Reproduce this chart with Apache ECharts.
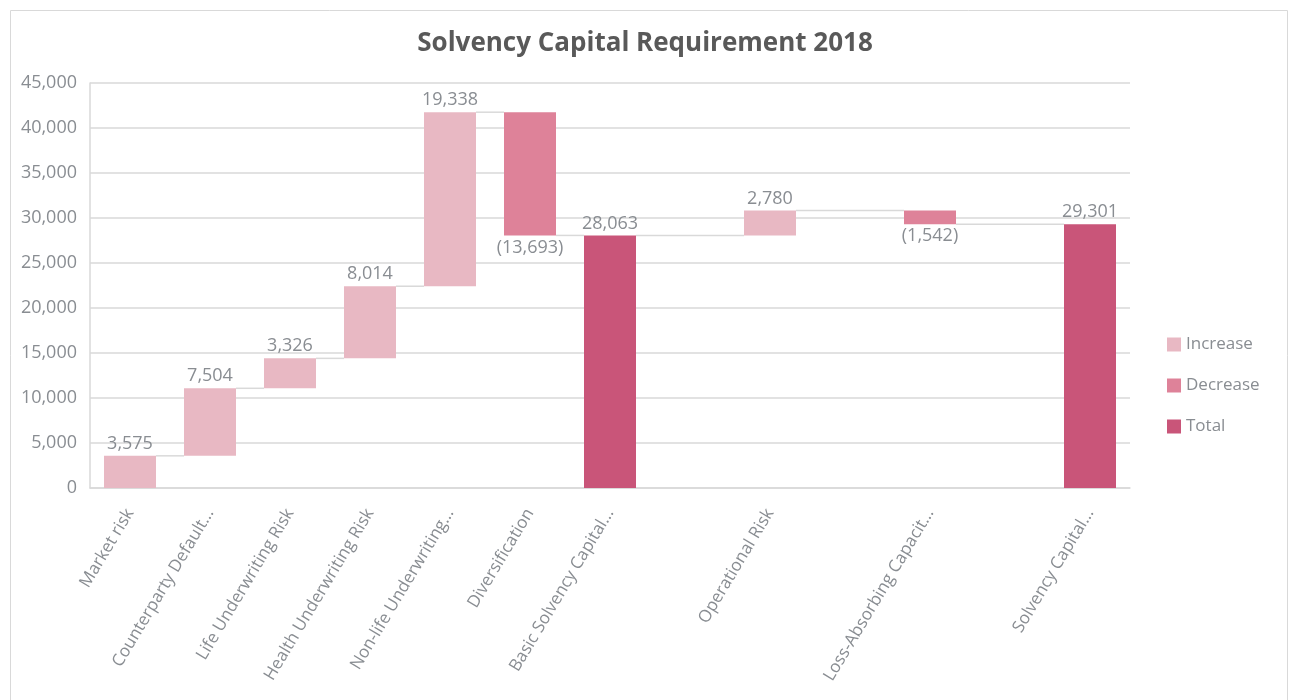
<!DOCTYPE html>
<html>
<head>
<meta charset="utf-8">
<title>Solvency Capital Requirement 2018</title>
<script src="https://cdn.jsdelivr.net/npm/echarts@6/dist/echarts.min.js"></script>
<style>
  html, body { margin: 0; padding: 0; background: #fff; }
  #chart { width: 1290px; height: 700px; }
</style>
</head>
<body>
<div id="chart"></div>
<script>
// categories as displayed (Excel truncates long names); '' = spacer column
const categories = [
  'Market risk', 'Counterparty Default...', 'Life Underwriting Risk',
  'Health Underwriting Risk', 'Non-life Underwriting...', 'Diversification',
  'Basic Solvency Capital...', '', 'Operational Risk', '',
  'Loss-Absorbing Capacit...', '', 'Solvency Capital...'
]
// kind of each step: inc / dec / total / '' (spacer)
const kinds = ['inc', 'inc', 'inc', 'inc', 'inc', 'dec', 'total', '', 'inc', '', 'dec', '', 'total']
const amounts = [3575, 7504, 3326, 8014, 19338, 13693, 28063, null, 2780, null, 1542, null, 29301]
const yTicks = [0, 45000, 5000]

const colors = { inc: '#E8B8C3', dec: '#DE8299', total: '#C95579' }
const labelGray = '#898D92'
const gridGray = '#D9D9D9'
const font = 'Open Sans'
const barW = 52

// build stacked pieces + connectors from the running level
const base = [], inc = [], dec = [], tot = []
const connectors = []
let level = 0
let lastIdx = -1, lastLevel = 0
kinds.forEach((k, i) => {
  const v = amounts[i]
  let b = '-', p = '-', m = '-', t = '-'
  if (k === 'inc') { b = level; p = v; level += v }
  else if (k === 'dec') { level -= v; b = level; m = v }
  else if (k === 'total') { t = v; level = v }
  base.push(b); inc.push(p); dec.push(m); tot.push(t)
  if (k) {
    if (lastIdx >= 0) connectors.push([lastIdx, i, lastLevel])
    lastIdx = i
    lastLevel = level
  }
})

const fmt = (n) => n.toLocaleString('en-US')

const chart = echarts.init(document.getElementById('chart'))

const labelStyle = { color: labelGray, fontFamily: font, fontSize: 18 }

chart.setOption({
  animation: false,
  textStyle: { fontFamily: font },
  title: {
    text: 'Solvency Capital Requirement 2018',
    left: 'center',
    top: 26,
    textStyle: { color: '#595959', fontFamily: font, fontSize: 26, fontWeight: 'bold' },
  },
  graphic: [
    {
      type: 'rect',
      shape: { x: 10.5, y: 10.5, width: 1277, height: 720 },
      style: { fill: 'none', stroke: gridGray, lineWidth: 1 },
      silent: true,
    },
  ],
  legend: {
    orient: 'vertical',
    left: 1162,
    top: 331,
    itemWidth: 14,
    itemHeight: 14,
    itemGap: 24,
    icon: 'rect',
    data: ['Increase', 'Decrease', 'Total'],
    textStyle: { color: labelGray, fontFamily: font, fontSize: 17 },
  },
  grid: { left: 90, right: 160, top: 83, bottom: 212 },
  xAxis: {
    type: 'category',
    data: categories,
    axisTick: { show: false },
    axisLine: { lineStyle: { color: gridGray, width: 1.5 } },
    axisLabel: {
      interval: 0,
      rotate: 59,
      margin: 22,
      color: labelGray,
      fontFamily: font,
      fontSize: 17,
    },
  },
  yAxis: {
    type: 'value',
    min: yTicks[0],
    max: yTicks[1],
    interval: yTicks[2],
    axisLine: { show: true, lineStyle: { color: gridGray, width: 1.5 } },
    axisTick: { show: false },
    splitLine: { lineStyle: { color: gridGray, width: 1.5 } },
    axisLabel: {
      color: labelGray,
      fontFamily: font,
      fontSize: 18,
      margin: 13,
      formatter: (v) => fmt(v),
    },
  },
  series: [
    {
      name: 'base',
      type: 'bar',
      stack: 'wf',
      barWidth: barW,
      data: base,
      itemStyle: { color: 'transparent' },
      silent: true,
    },
    {
      name: 'Increase',
      type: 'bar',
      stack: 'wf',
      barWidth: barW,
      data: inc,
      itemStyle: { color: colors.inc },
      label: { show: true, position: 'top', distance: 3, ...labelStyle, formatter: (p) => fmt(p.value) },
    },
    {
      name: 'Decrease',
      type: 'bar',
      stack: 'wf',
      barWidth: barW,
      data: dec,
      itemStyle: { color: colors.dec },
      label: { show: true, position: 'bottom', distance: 3, ...labelStyle, formatter: (p) => '(' + fmt(p.value) + ')' },
    },
    {
      name: 'Total',
      type: 'bar',
      stack: 'wf',
      barWidth: barW,
      data: tot,
      itemStyle: { color: colors.total },
      label: { show: true, position: 'top', distance: 3, ...labelStyle, formatter: (p) => fmt(p.value) },
    },
    {
      // connector lines between consecutive bars
      name: 'connectors',
      type: 'custom',
      silent: true,
      z: 1,
      data: connectors,
      encode: { x: 0, y: 2 },
      renderItem: (params, api) => {
        const a = api.coord([api.value(0), api.value(2)])
        const b = api.coord([api.value(1), api.value(2)])
        return {
          type: 'line',
          shape: { x1: a[0] + barW / 2, y1: a[1], x2: b[0] - barW / 2, y2: b[1] },
          style: { stroke: gridGray, lineWidth: 1.5 },
        }
      },
    },
  ],
})
</script>
</body>
</html>
